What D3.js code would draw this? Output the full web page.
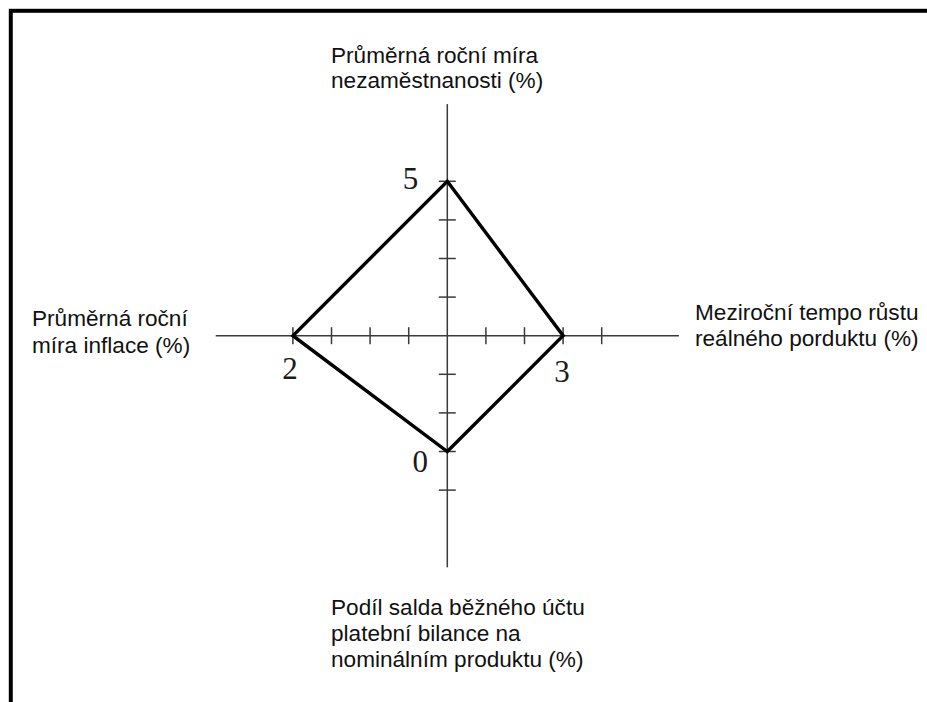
<!DOCTYPE html>
<html lang="cs">
<head>
    <meta charset="UTF-8">
    <script src="https://cdnjs.cloudflare.com/ajax/libs/d3/7.8.5/d3.min.js"></script>
    <title>Magický čtyřúhelník</title>
    <style>
        body { margin: 0; background: #fff; }
        svg { display: block; }
    </style>
</head>
<body>
<script>
    // osy: nahoru, doprava, dolu, doleva
    let axisKeys = ["unemployment", "growth", "balance", "inflation"];
    let axisDirs = [[0, -1], [1, 0], [0, 1], [-1, 0]];
    // hodnota ve stredu a zmena hodnoty na jeden dilek
    let axisOrigin = [9, 0, -3, 6];
    let axisStep = [-1, 1, 1, -1];
    // pocet dilku na kazde poloose
    let tickCount = [4, 4, 4, 4];
    // hodnoty ctyruhelniku
    let values = [5, 3, 0, 2];
    let valueLabels = ["5", "3", "0", "2"];
    let axisTitles = [
        ["Průměrná roční míra", "nezaměstnanosti (%)"],
        ["Meziroční tempo růstu", "reálného porduktu (%)"],
        ["Podíl salda běžného účtu", "platební bilance na", "nominálním produktu (%)"],
        ["Průměrná roční", "míra inflace (%)"]
    ];

    const width = 927, height = 702;
    const cx = 447.3, cy = 335.7;
    const unit = 38.6; // px na dilek

    const svg = d3.select("body").append("svg")
        .attr("width", width)
        .attr("height", height);

    // ramecek (jen horni a leva strana je videt)
    svg.append("rect")
        .attr("x", 10.8).attr("y", 10.8)
        .attr("width", 940).attr("height", 720)
        .attr("fill", "none")
        .attr("stroke", "#000")
        .attr("stroke-width", 4);

    // vzdalenost od stredu v dilcich -> px
    const r = d3.scaleLinear().domain([0, 6]).range([0, 6 * unit]);

    // pro kazdou osu scale hodnota -> dilky
    const valueScales = axisKeys.map((k, i) =>
        d3.scaleLinear().domain([axisOrigin[i], axisOrigin[i] + axisStep[i]]).range([0, 1]));

    let point = (i, t) => [cx + axisDirs[i][0] * r(t), cy + axisDirs[i][1] * r(t)];

    // osy
    const axisColor = "#3a3a3a";
    axisKeys.forEach((k, i) => {
        let p = point(i, 6);
        svg.append("line")
            .attr("x1", cx).attr("y1", cy)
            .attr("x2", p[0]).attr("y2", p[1])
            .attr("stroke", axisColor)
            .attr("stroke-width", 1.5);
        // dilky
        const ticks = d3.range(1, tickCount[i] + 1);
        svg.selectAll(".tick" + i)
            .data(ticks)
            .enter()
            .append("line")
            .attr("class", "tick" + i)
            .attr("x1", d => point(i, d)[0] - axisDirs[i][1] * 8.5)
            .attr("y1", d => point(i, d)[1] - axisDirs[i][0] * 8.5)
            .attr("x2", d => point(i, d)[0] + axisDirs[i][1] * 8.5)
            .attr("y2", d => point(i, d)[1] + axisDirs[i][0] * 8.5)
            .attr("stroke", axisColor)
            .attr("stroke-width", 1.5);
    });

    // ctyruhelnik
    const pts = values.map((v, i) => point(i, valueScales[i](v)));
    svg.append("path")
        .datum(pts)
        .attr("d", d3.line().curve(d3.curveLinearClosed))
        .attr("fill", "none")
        .attr("stroke", "#000")
        .attr("stroke-width", 3.4)
        .attr("stroke-linejoin", "miter");

    // popisky hodnot
    const labelOffsets = [[-29, 8, "end"], [-1, 46, "middle"], [-27, 20, "middle"], [-3, 43, "middle"]];
    svg.selectAll(".val")
        .data(values)
        .enter()
        .append("text")
        .attr("class", "val")
        .attr("x", (d, i) => pts[i][0] + labelOffsets[i][0])
        .attr("y", (d, i) => pts[i][1] + labelOffsets[i][1])
        .attr("text-anchor", (d, i) => labelOffsets[i][2])
        .attr("font-family", "'Liberation Serif', 'Times New Roman', serif")
        .attr("font-size", 31)
        .attr("fill", "#1a1a1a")
        .text((d, i) => valueLabels[i]);

    // nazvy os
    const titlePos = [[331, 62.7], [695, 320], [331, 614.5], [32, 326]];
    const lineH = [25.5, 25.5, 26.3, 26.5];
    axisTitles.forEach((lines, i) => {
        svg.append("text")
            .attr("font-family", "'Liberation Sans', Arial, sans-serif")
            .attr("font-size", 22.6)
            .attr("fill", "#111")
            .selectAll("tspan")
            .data(lines)
            .enter()
            .append("tspan")
            .attr("x", titlePos[i][0])
            .attr("y", (d, j) => titlePos[i][1] + j * lineH[i])
            .text(d => d);
    });
</script>
</body>
</html>
